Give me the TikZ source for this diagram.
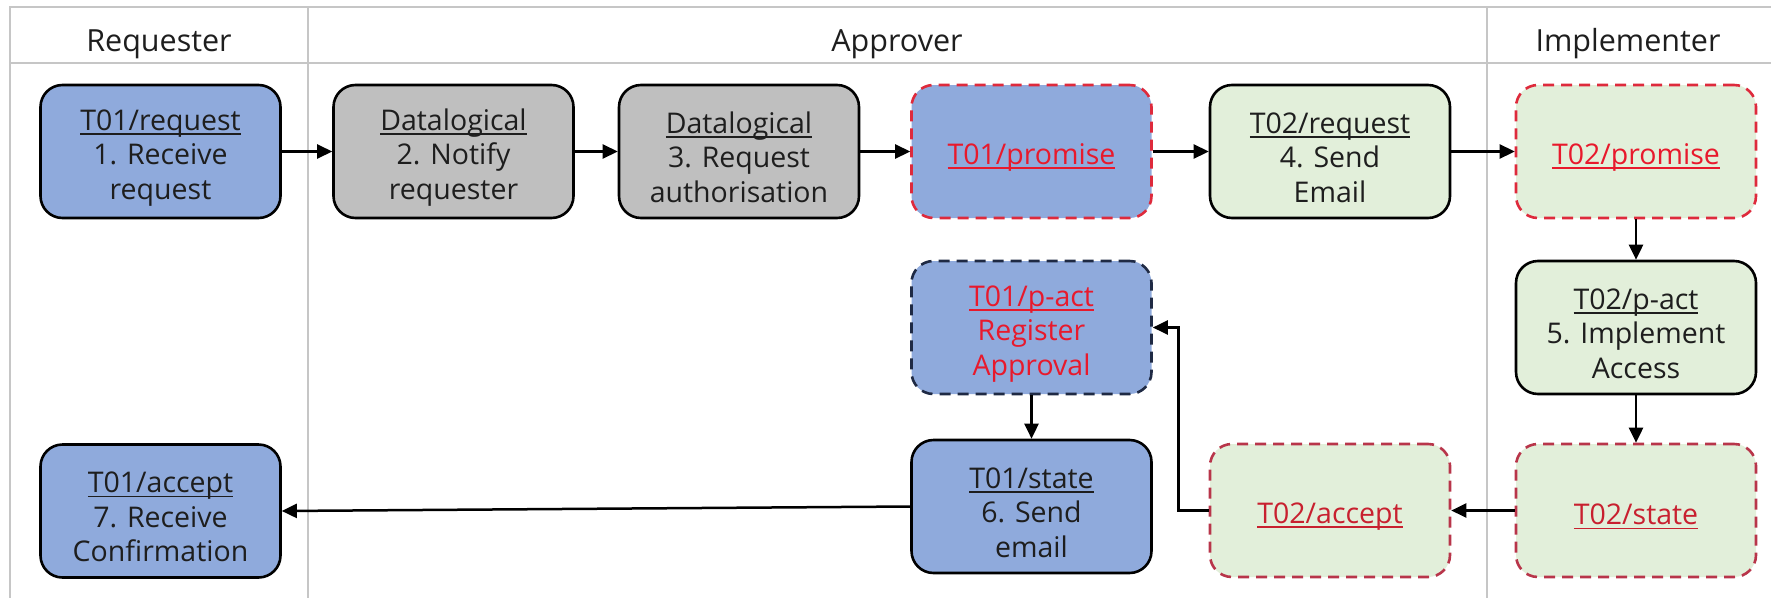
\documentclass[tikz,border=0pt]{standalone}
\usepackage{fontspec}
\setmainfont{Open Sans}
\usetikzlibrary{arrows.meta}

\definecolor{actblue}{HTML}{8FAADC}
\definecolor{datagray}{HTML}{BFBFBF}
\definecolor{implgreen}{HTML}{E2EFDA}
\definecolor{promred}{HTML}{DE2A3C}
\definecolor{txtred}{HTML}{E8192C}
\definecolor{deepred}{HTML}{B8354A}
\definecolor{deeptxt}{HTML}{C8202F}
\definecolor{navyline}{HTML}{1F2A44}
\definecolor{lanegray}{HTML}{C6C6C6}
\definecolor{ink}{HTML}{1E1E1E}

% underlined first line of a task label (rule sits just below the baseline);
% the strut gives the first line some extra head room
\newcommand\ulabel[1]{\setbox0=\hbox{#1}\rule{0pt}{33pt}\rlap{\rule[-4.5pt]{\wd0}{1.6pt}}\box0}

\begin{document}
\begin{tikzpicture}[x=1pt,y=-1pt,
  task/.style={rounded corners=22pt, minimum width=240pt, minimum height=133pt,
    inner sep=0pt, align=center, line width=2.6pt,
    font=\fontsize{28.5}{34.5}\selectfont, text=ink},
  solidbox/.style={task, draw=black},
  redbox/.style={task, draw=promred, dash pattern=on 11pt off 7pt, text=txtred},
  darkredbox/.style={task, draw=deepred, dash pattern=on 11pt off 7pt, text=deeptxt},
  navybox/.style={task, draw=navyline, dash pattern=on 11pt off 7pt},
  blue/.style={fill=actblue},
  grey/.style={fill=datagray},
  green/.style={fill=implgreen},
  flow/.style={draw=black, line width=2.5pt, -{Triangle[length=15pt,width=14pt]}},
  lane/.style={draw=lanegray, line width=2.5pt},
  hdr/.style={font=\fontsize{30.5}{36}\selectfont, text=ink, inner sep=0pt, anchor=base}
]
\useasboundingbox (0,0) rectangle (1771,597);

% swimlane frame
\draw[lane] (10,640) -- (10,7) -- (1800,7);
\draw[lane] (10,63) -- (1800,63);
\draw[lane] (308,7) -- (308,640);
\draw[lane] (1487,7) -- (1487,640);

% lane headers
\node[hdr] (hreq) at (159,51) {Requester};
\node[hdr] (happ) at (897,51) {Approver};
\node[hdr] (himp) at (1628,51) {Implementer};

% top row
\node[solidbox, blue] (b1) at (160.5,151.5) {\ulabel{T01/request}\\1. Receive\\request};
\node[solidbox, grey] (b2) at (453.5,151.5) {\ulabel{Datalogical}\\2. Notify\\requester};
\node[solidbox, grey] (b3) at (739,151.5) {\ulabel{Datalogical}\\3. Request\\authorisation};
\node[redbox, blue] (p1) at (1031.5,151.5) {\ulabel{T01/promise}};
\node[solidbox, green] (r2) at (1330,151.5) {\ulabel{T02/request}\\4. Send\\Email};
\node[redbox, green] (p2) at (1636,151.5) {\ulabel{T02/promise}};

% middle row
\node[navybox, blue, text=txtred] (pa1) at (1031.5,327.5) {\ulabel{T01/p-act}\\Register\\Approval};
\node[solidbox, green] (a2) at (1636,327.5) {\ulabel{T02/p-act}\\5. Implement\\Access};

% bottom row
\node[solidbox, blue] (acc1) at (160.5,511) {\ulabel{T01/accept}\\7. Receive\\Confirmation};
\node[solidbox, blue] (s1) at (1031.5,506.5) {\ulabel{T01/state}\\6. Send\\email};
\node[darkredbox, green] (acc2) at (1330,510.5) {\ulabel{T02/accept}};
\node[darkredbox, green] (s2) at (1636,510.5) {\ulabel{T02/state}};

% connectors
\draw[flow] (b1) -- (b2);
\draw[flow] (b2) -- (b3);
\draw[flow] (b3) -- (p1);
\draw[flow] (p1) -- (r2);
\draw[flow] (r2) -- (p2);
\draw[flow] (p2) -- (a2);
\draw[flow] (a2) -- (s2);
\draw[flow] (s2) -- (acc2);
\draw[flow] (acc2.west) -- ++(-30,0) |- (pa1.east);
\draw[flow] (pa1) -- (s1);
\draw[flow] (s1.west) -- (acc1.east);
\end{tikzpicture}
\end{document}
